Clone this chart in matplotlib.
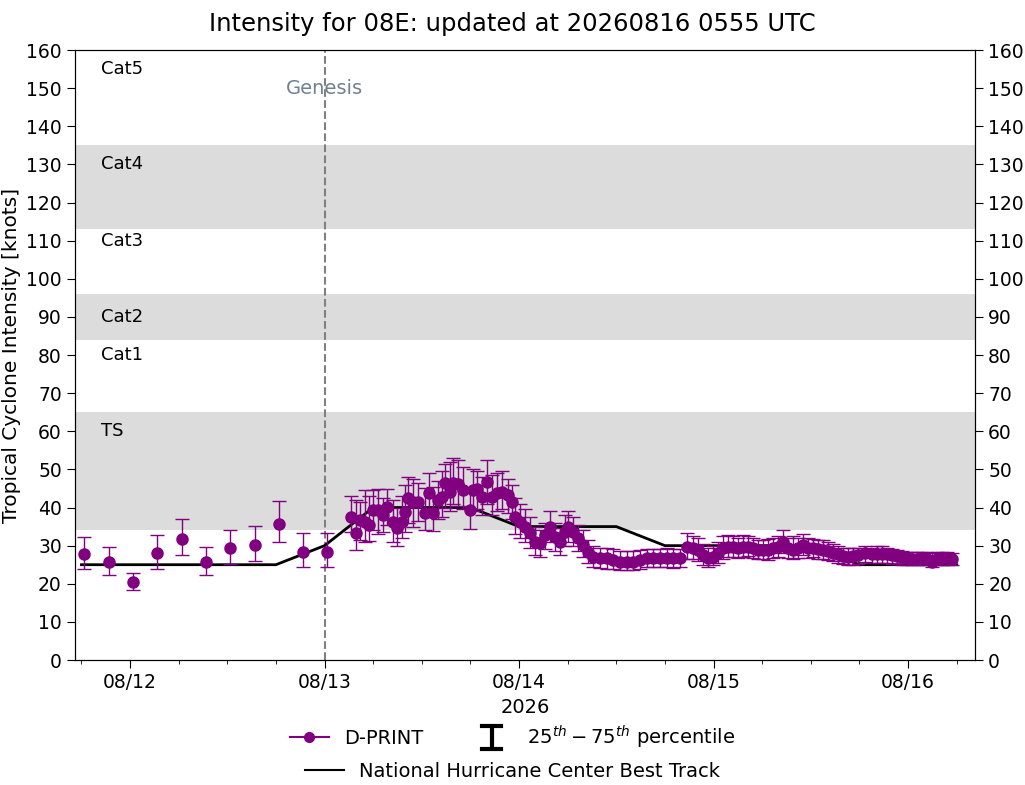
import matplotlib
matplotlib.use("Agg")
import matplotlib.pyplot as plt
import matplotlib.dates as mdates
from matplotlib.lines import Line2D
from matplotlib.legend_handler import HandlerBase
import pandas as pd
import numpy as np

# ---- data (time given as fractional day of August 2026, UTC) ----
dprint_day = [11.765, 11.890, 12.015, 12.140, 12.265, 12.390, 12.515, 12.640, 12.765, 12.890, 13.015,
              13.136, 13.162, 13.182, 13.208, 13.229, 13.249, 13.275, 13.301, 13.321, 13.352,
              13.373, 13.398, 13.414, 13.429, 13.455, 13.481, 13.517, 13.537, 13.558, 13.583,
              13.604, 13.619, 13.645, 13.661, 13.686, 13.712, 13.748, 13.763, 13.784, 13.810,
              13.835, 13.861, 13.887, 13.912, 13.943, 13.964, 13.979, 14.005, 14.031, 14.056,
              14.082, 14.108, 14.134, 14.159, 14.185, 14.211, 14.236, 14.252, 14.278, 14.303,
              14.329, 14.355, 14.380, 14.416, 14.452, 14.483, 14.519, 14.555, 14.586, 14.622,
              14.658, 14.689, 14.725, 14.761, 14.792, 14.828, 14.864, 14.894, 14.920, 14.946,
              14.972, 14.997, 15.023, 15.049, 15.074, 15.100, 15.126, 15.151, 15.177, 15.203,
              15.229, 15.254, 15.280, 15.306, 15.331, 15.357, 15.383, 15.409, 15.434, 15.460,
              15.486, 15.511, 15.537, 15.563, 15.588, 15.614, 15.640, 15.666, 15.691, 15.717,
              15.743, 15.779, 15.815, 15.840, 15.866, 15.892, 15.917, 15.943, 15.969, 15.995,
              16.020, 16.046, 16.072, 16.097, 16.123, 16.149, 16.175, 16.200, 16.226]
dprint_kt = [27.7, 25.6, 20.4, 28.0, 31.7, 25.6, 29.3, 30.1, 35.8, 28.4, 28.4,
             37.6, 33.4, 36.7, 36.3, 35.4, 39.3, 39.3, 38.0, 40.2, 36.3,
             34.6, 36.3, 38.9, 42.4, 41.5, 41.5, 38.5, 43.9, 38.5, 42.0,
             42.8, 46.5, 44.1, 46.5, 46.3, 44.6, 39.3, 44.6, 44.8, 42.8,
             46.6, 42.8, 43.7, 44.2, 43.3, 41.5, 37.6, 36.3, 35.0, 33.3,
             31.0, 30.6, 32.8, 35.0, 32.3, 31.0, 33.7, 35.0, 33.7, 31.9,
             30.2, 28.4, 27.1, 26.7, 26.7, 26.2, 25.8, 25.8, 25.8, 26.2,
             26.7, 26.7, 26.7, 26.8, 26.7, 26.7, 29.7, 29.3, 28.9, 27.5,
             26.7, 27.1, 28.0, 29.3, 29.7, 29.7, 29.3, 29.7, 29.7, 29.3,
             28.9, 28.9, 28.9, 29.3, 29.7, 31.0, 29.3, 28.9, 29.3, 30.2,
             29.3, 29.3, 29.0, 28.8, 28.5, 28.2, 27.7, 27.3, 27.1, 27.2,
             27.5, 28.0, 27.8, 27.7, 27.7, 27.7, 27.5, 27.3, 27.1, 26.7,
             26.5, 26.5, 26.7, 26.4, 25.8, 26.4, 26.7, 26.7, 26.4]
dprint_p25 = [24.0, 22.3, 18.4, 24.0, 27.5, 22.3, 25.2, 26.0, 30.9, 24.3, 24.3,
              33.5, 28.8, 31.5, 31.0, 31.2, 34.0, 33.0, 33.5, 35.5, 31.0,
              30.0, 32.0, 33.5, 36.0, 35.0, 36.5, 34.0, 38.5, 33.8, 37.0,
              37.5, 40.0, 39.0, 41.0, 40.5, 39.5, 34.3, 39.0, 39.5, 38.0,
              41.0, 38.0, 39.0, 39.5, 38.5, 37.0, 33.0, 32.0, 31.0, 29.5,
              27.5, 27.0, 29.0, 31.0, 28.5, 27.5, 30.0, 31.0, 30.0, 28.5,
              27.0, 25.5, 24.5, 24.2, 24.0, 23.8, 23.5, 23.5, 23.6, 24.0,
              24.3, 24.5, 24.4, 24.5, 24.2, 24.5, 26.5, 26.5, 26.0, 25.0,
              24.3, 24.8, 25.5, 26.5, 27.0, 27.0, 26.8, 27.0, 27.2, 26.8,
              26.5, 26.5, 26.3, 26.8, 27.0, 28.0, 26.8, 26.5, 26.8, 27.5,
              26.8, 27.0, 26.5, 26.5, 26.2, 26.0, 25.5, 25.2, 25.0, 25.0,
              25.3, 25.8, 25.5, 25.5, 25.5, 25.5, 25.3, 25.2, 25.0, 24.8,
              24.8, 24.8, 24.8, 24.8, 24.5, 24.8, 25.0, 25.0, 25.0]
dprint_p75 = [32.2, 29.7, 22.7, 32.7, 36.9, 29.7, 34.1, 35.1, 41.6, 33.2, 33.2,
              43.0, 42.0, 41.5, 44.5, 43.0, 44.5, 44.8, 42.5, 44.8, 42.0,
              40.0, 43.0, 46.0, 48.0, 47.5, 46.5, 45.0, 49.0, 45.5, 47.0,
              49.5, 51.5, 52.0, 53.0, 52.5, 50.5, 45.0, 50.0, 49.5, 48.0,
              52.5, 48.5, 49.0, 49.5, 47.5, 46.0, 42.5, 41.0, 39.5, 37.5,
              35.0, 34.0, 36.0, 39.2, 36.0, 34.5, 38.0, 39.0, 37.5, 35.5,
              34.0, 31.5, 30.0, 29.5, 29.5, 29.0, 28.5, 28.5, 28.5, 28.8,
              29.0, 29.0, 29.2, 29.5, 29.0, 29.0, 33.2, 32.5, 32.0, 30.5,
              29.5, 30.0, 31.0, 32.5, 32.8, 32.5, 32.0, 32.8, 32.5, 32.0,
              31.5, 31.5, 31.8, 32.0, 32.5, 34.2, 32.0, 32.5, 32.0, 33.0,
              32.0, 31.8, 31.5, 31.5, 31.0, 30.5, 30.0, 29.5, 29.3, 29.3,
              29.5, 29.8, 29.5, 29.8, 29.8, 29.5, 29.0, 28.8, 28.5, 28.3,
              28.3, 28.3, 28.3, 28.3, 28.0, 28.3, 28.3, 28.3, 28.0]

bt_day = [11.75, 12.0, 12.25, 12.5, 12.75, 13.0, 13.25, 13.5, 13.75, 14.0,
          14.25, 14.5, 14.75, 15.0, 15.25, 15.5, 15.75, 16.0, 16.25]
bt_kt = [25, 25, 25, 25, 25, 30, 40, 40, 40, 35,
         35, 35, 30, 30, 30, 30, 25, 25, 25]

band_ranges = [(34, 65), (84, 96), (113, 135)]
cat_labels = ["TS", "Cat1", "Cat2", "Cat3", "Cat4", "Cat5"]
cat_label_y = [60, 80, 90, 110, 130, 155]
genesis_day = 13.0
title = "Intensity for 08E: updated at 20260816 0555 UTC"

base = pd.Timestamp("2026-08-01")
def to_time(days):
    return base + pd.to_timedelta(np.asarray(days) - 1.0, unit="D")

t_dp = to_time(dprint_day)
t_bt = to_time(bt_day)
v = np.array(dprint_kt)
lo = v - np.array(dprint_p25)
hi = np.array(dprint_p75) - v

purple = "#800080"
fig = plt.figure(figsize=(10.25, 7.85), dpi=100)
ax = fig.add_axes([0.0732, 0.1592, 0.878, 0.7771])

for b0, b1 in band_ranges:
    ax.axhspan(b0, b1, color="#dcdcdc", zorder=0, lw=0)

ax.plot(t_bt, bt_kt, color="black", lw=2, zorder=2)
ax.errorbar(t_dp, v, yerr=[lo, hi], fmt="o", color=purple, ms=8,
            ecolor=purple, elinewidth=1, capsize=5, capthick=1, zorder=3)

ax.axvline(to_time([genesis_day])[0], color="gray", ls="--", lw=1.5, zorder=1)
ax.text(to_time([genesis_day])[0], 150, "Genesis", color="#708090",
        fontsize=14, ha="center", va="center")

for lab, yy in zip(cat_labels, cat_label_y):
    ax.text(0.029, yy, lab, transform=ax.get_yaxis_transform(), fontsize=13,
            ha="left", va="center")

ax.set_xlim(to_time([11.717])[0], to_time([16.344])[0])
ax.set_ylim(0, 160)
ax.set_yticks(np.arange(0, 161, 10))
ax.xaxis.set_major_locator(mdates.DayLocator())
ax.xaxis.set_major_formatter(mdates.DateFormatter("%m/%d"))
ax.xaxis.set_minor_locator(mdates.HourLocator(byhour=[6, 12, 18]))
ax.tick_params(axis="both", which="major", labelsize=13.5, length=6)
ax.tick_params(axis="x", which="minor", length=3)
ax.set_xlabel("2026", fontsize=14)
ax.set_ylabel("Tropical Cyclone Intensity [knots]", fontsize=14.5)

ax2 = ax.twinx()
ax2.set_ylim(0, 160)
ax2.set_yticks(np.arange(0, 161, 10))
ax2.tick_params(axis="y", labelsize=13.5, length=6)

fig.suptitle(title, fontsize=17.5, y=0.985)


class IBeamHandle:
    pass


class HandlerIBeam(HandlerBase):
    def create_artists(self, legend, orig_handle, xdescent, ydescent,
                       width, height, fontsize, trans):
        cx = width / 2 - xdescent
        half_h = height * 0.85
        cy = height / 2 - ydescent
        cap = 7
        arts = [
            Line2D([cx, cx], [cy - half_h, cy + half_h], color="black", lw=3,
                   solid_capstyle="butt"),
            Line2D([cx - cap, cx + cap], [cy + half_h, cy + half_h], color="black", lw=3),
            Line2D([cx - cap, cx + cap], [cy - half_h, cy - half_h], color="black", lw=3),
        ]
        for a in arts:
            a.set_transform(trans)
        return arts


h_dp = Line2D([], [], color=purple, marker="o", ms=7, lw=1.5)
h_pct = IBeamHandle()
h_bt = Line2D([], [], color="black", lw=1.5)
leg1 = fig.legend([h_dp, h_pct], ["D-PRINT", r"$25^{th}-75^{th}$ percentile"],
                  loc="center", bbox_to_anchor=(0.5, 0.061), ncol=2, frameon=False,
                  fontsize=14, columnspacing=2.5,
                  handler_map={IBeamHandle: HandlerIBeam()})
leg2 = fig.legend([h_bt], ["National Hurricane Center Best Track"],
                  loc="center", bbox_to_anchor=(0.5, 0.017), frameon=False, fontsize=14)

fig.savefig("out.png", dpi=100)
